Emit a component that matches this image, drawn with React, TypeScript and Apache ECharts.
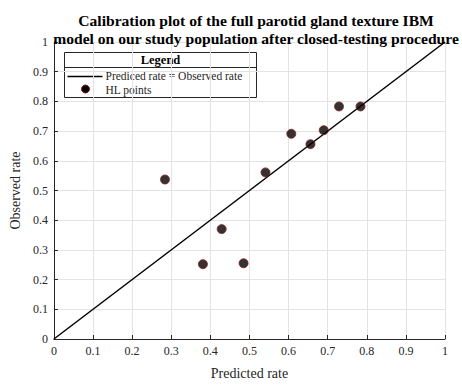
import React, { useEffect, useRef } from "react";
import * as echarts from "echarts";

const titleLines = [
  "Calibration plot of the full parotid gland texture IBM",
  "model on our study population after closed-testing procedure",
];
const xLabel = "Predicted rate";
const yLabel = "Observed rate";
const legendTitle = "Legend";
const refLineName = "Prediced rate = Observed rate";
const pointsName = "HL points";
const refLine: [number, number][] = [
  [0, 0],
  [1, 1],
];
const predicted = [0.284, 0.381, 0.429, 0.485, 0.541, 0.607, 0.656, 0.69, 0.729, 0.784];
const observed = [0.537, 0.252, 0.37, 0.255, 0.561, 0.691, 0.656, 0.703, 0.783, 0.783];

const FONT = "'Liberation Serif', 'DejaVu Serif', serif";

export default function App() {
  const ref = useRef<HTMLDivElement>(null);
  useEffect(() => {
    if (!ref.current) return;
    const chart = echarts.init(ref.current, undefined, { renderer: "svg" });
    const fmt = (v: number) => String(Math.round(v * 10) / 10);
    const axisCommon = {
      type: "value" as const,
      min: 0,
      max: 1,
      interval: 0.1,
      axisLine: { show: true, lineStyle: { color: "#262626", width: 1 } },
      axisTick: { show: true, inside: true, length: 4, lineStyle: { color: "#262626" } },
      splitLine: { show: true, lineStyle: { color: "#e3e3e3", width: 1 } },
      axisLabel: { color: "#262626", fontFamily: FONT, fontSize: 12, formatter: fmt, margin: 6 },
      nameTextStyle: { color: "#262626", fontFamily: FONT, fontSize: 14 },
    };
    const lx = 62;
    const ly = 52;
    const lw = 192;
    const lh = 45;
    chart.setOption({
      animation: false,
      backgroundColor: "#ffffff",
      title: {
        text: titleLines.join("\n"),
        left: 251,
        top: 6,
        textAlign: "center",
        textStyle: {
          fontFamily: FONT,
          fontWeight: "bold",
          fontSize: 15.6,
          lineHeight: 18,
          color: "#000000",
        },
      },
      grid: { left: 51, right: 17, top: 42, bottom: 38, containLabel: false },
      xAxis: {
        ...axisCommon,
        name: xLabel,
        nameLocation: "middle",
        nameGap: 27,
      },
      yAxis: {
        ...axisCommon,
        name: yLabel,
        nameLocation: "middle",
        nameGap: 28,
      },
      series: [
        {
          name: refLineName,
          type: "line",
          data: refLine,
          symbol: "none",
          lineStyle: { color: "#000000", width: 1.5 },
          z: 2,
        },
        {
          name: pointsName,
          type: "scatter",
          data: predicted.map((p, i) => [p, observed[i]]),
          symbolSize: 9,
          itemStyle: { color: "#000000", borderColor: "#8b1a1a", borderWidth: 1 },
          z: 3,
        },
      ],
      graphic: [
        {
          type: "group",
          left: lx,
          top: ly,
          z: 100,
          children: [
            {
              type: "rect",
              shape: { x: 0, y: 0, width: lw, height: lh },
              style: { fill: "#ffffff", stroke: "#262626", lineWidth: 1 },
            },
            {
              type: "line",
              shape: { x1: 0, y1: 15, x2: lw, y2: 15 },
              style: { stroke: "#262626", lineWidth: 1 },
            },
            {
              type: "text",
              x: lw / 2,
              y: 7.5,
              style: {
                text: legendTitle,
                fontFamily: FONT,
                fontWeight: "bold",
                fontSize: 12.5,
                lineHeight: 12,
                fill: "#000000",
                align: "center",
                verticalAlign: "middle",
              },
            },
            {
              type: "line",
              shape: { x1: 3, y1: 24, x2: 38, y2: 24 },
              style: { stroke: "#000000", lineWidth: 1.5 },
            },
            {
              type: "text",
              x: 41,
              y: 23.5,
              style: {
                text: refLineName,
                fontFamily: FONT,
                fontSize: 11.5,
                lineHeight: 11,
                fill: "#262626",
                align: "left",
                verticalAlign: "middle",
              },
            },
            {
              type: "circle",
              shape: { cx: 21, cy: 36.5, r: 4 },
              style: { fill: "#000000", stroke: "#8b1a1a", lineWidth: 1 },
            },
            {
              type: "text",
              x: 41,
              y: 37,
              style: {
                text: pointsName,
                fontFamily: FONT,
                fontSize: 11.5,
                lineHeight: 11,
                fill: "#262626",
                align: "left",
                verticalAlign: "middle",
              },
            },
          ],
        },
      ],
    });
    return () => chart.dispose();
  }, []);
  return (
    <div
      ref={ref}
      style={{ position: "fixed", left: 0, top: 0, width: 462, height: 385 }}
    />
  );
}
